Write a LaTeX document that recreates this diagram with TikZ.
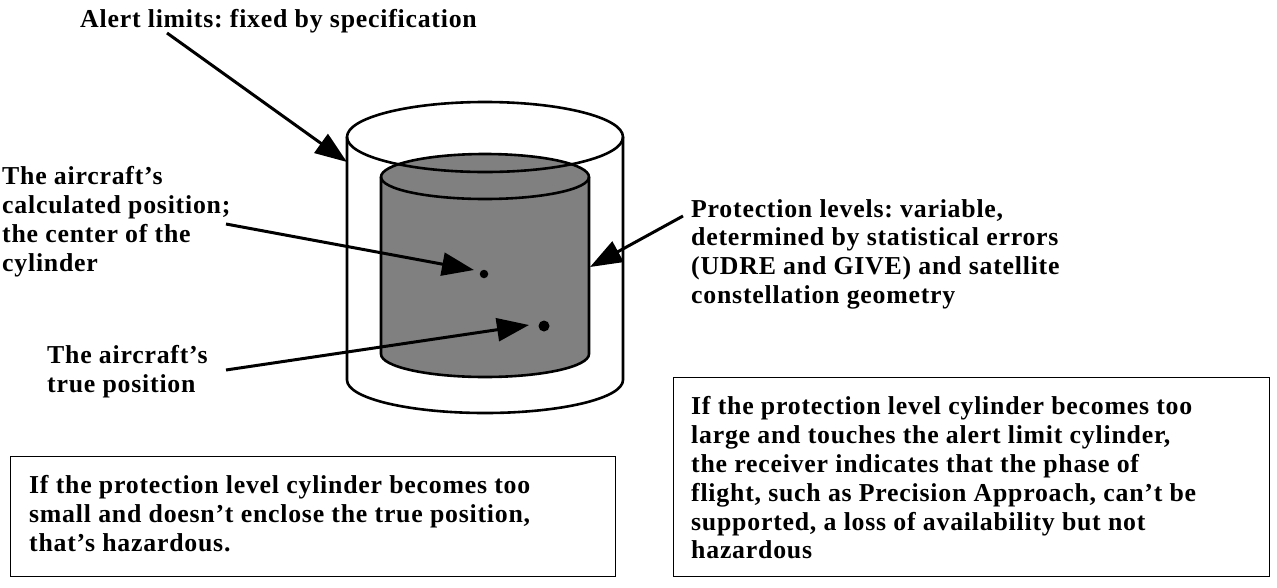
\documentclass[tikz,border=0pt]{standalone}
\usepackage{fontspec}
\setmainfont{Liberation Serif}[LetterSpace=3]
\usetikzlibrary{arrows.meta}
\tikzset{
  lbl/.style={anchor=north west,inner sep=0pt,align=left,font=\bfseries\fontsize{25.8}{28.8}\selectfont\frenchspacing},
  cyl/.style={line width=2.6pt,line cap=round,line join=round},
  pointer/.style={line width=3pt,-{Triangle[length=32pt,width=23pt]}},
  notebox/.style={draw,line width=1.2pt,fill=white,inner sep=0pt},
  posdot/.style={circle,fill=black,inner sep=0pt}
}
\begin{document}
\begin{tikzpicture}[x=1pt,y=-1pt]
\useasboundingbox (0,0) rectangle (1277,587);
% outer cylinder body
\draw[cyl] (347,137) -- (347,380) arc[start angle=180,end angle=0,x radius=138,y radius=33] -- (623,137);
% inner cylinder
\draw[cyl,fill=black!50] (381,177) -- (381,354) arc[start angle=180,end angle=0,x radius=104,y radius=23] -- (589,177) arc[start angle=0,end angle=-180,x radius=104,y radius=23] -- cycle;
\draw[cyl] (381,177) arc[start angle=180,end angle=0,x radius=104,y radius=22];
% outer rim
\draw[cyl] (485,137) ellipse[x radius=138,y radius=35];
% points
\node[posdot,minimum size=8.5pt] (calc) at (484,274) {};
\node[posdot,minimum size=11pt] (true) at (544,326) {};
% labels
\node[lbl] (alert) at (80,9) {Alert limits: fixed by specification};
\node[lbl] (calctxt) at (2,166.5) {The aircraft’s\\calculated position;\\the center of the\\cylinder};
\node[lbl] (truetxt) at (47,345.5) {The aircraft’s\\true position};
\node[lbl] (prot) at (691,199) {Protection levels: variable,\\determined by statistical errors\\(UDRE and GIVE) and satellite\\constellation geometry};
% boxes
\node[notebox,anchor=north west,minimum width=605pt,minimum height=120pt] (boxa) at (10,456) {};
\node[lbl] (boxatxt) at (29,475.5) {If the protection level cylinder becomes too\\small and doesn’t enclose the true position,\\that’s hazardous.};
\node[notebox,anchor=north west,minimum width=596pt,minimum height=199pt] (boxb) at (673,377) {};
\node[lbl] (boxbtxt) at (691,396.5) {If the protection level cylinder becomes too\\large and touches the alert limit cylinder,\\the receiver indicates that the phase of\\flight, such as Precision Approach, can’t be\\supported, a loss of availability but not\\hazardous};
% arrow ends
\coordinate (a1) at (167,33); \coordinate (a2) at (347,162);
\coordinate (c1) at (226,224); \coordinate (c2) at (474,270);
\coordinate (t1) at (226,370); \coordinate (t2) at (529,325);
\coordinate (p1) at (683,216); \coordinate (p2) at (590,267);
\draw[pointer] (a1) -- (a2);
\draw[pointer] (c1) -- (c2);
\draw[pointer] (t1) -- (t2);
\draw[pointer] (p1) -- (p2);
\end{tikzpicture}
\end{document}
